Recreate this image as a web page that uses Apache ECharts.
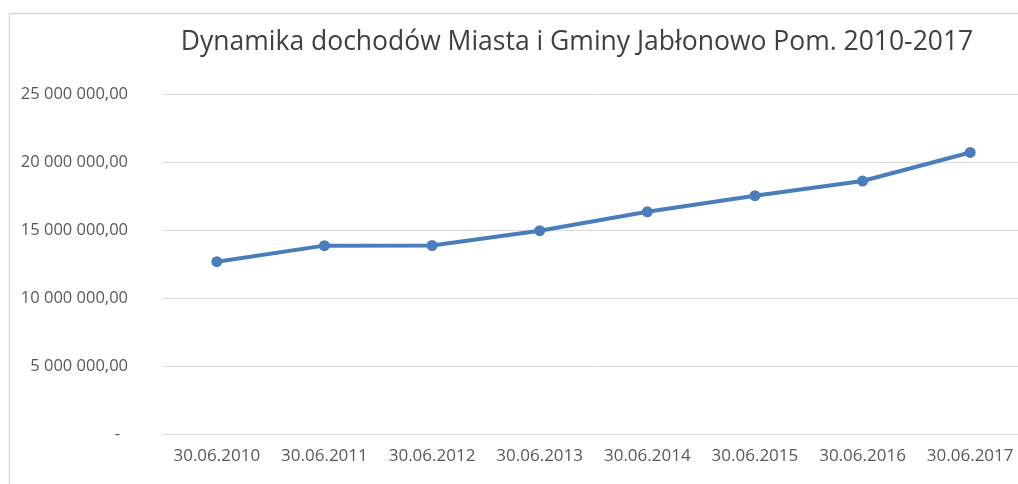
<!DOCTYPE html>
<html>
<head>
<meta charset="utf-8">
<script src="https://cdn.jsdelivr.net/npm/echarts@6/dist/echarts.min.js"></script>
<style>
  html, body { margin: 0; padding: 0; background: #fff; overflow: hidden; }
  /* wykres w oryginale jest lekko przycięty z prawej strony */
  #chart { width: 1024px; height: 484px; }
</style>
</head>
<body>
<div id="chart"></div>
<script>
// dane
const categories = ['30.06.2010', '30.06.2011', '30.06.2012', '30.06.2013', '30.06.2014', '30.06.2015', '30.06.2016', '30.06.2017'];
const dochody = [12670000, 13850000, 13860000, 14950000, 16340000, 17520000, 18600000, 20700000];
const yTicks = [0, 5000000, 10000000, 15000000, 20000000, 25000000];

// format jak w Excelu: "25 000 000,00", zero jako "-"
function fmt(v) {
  if (v === 0) return '{dash|-}';
  const s = Math.round(v).toString().replace(/\B(?=(\d{3})+(?!\d))/g, ' ');
  return s + ',00';
}

const chart = echarts.init(document.getElementById('chart'));
const textColor = '#595959';
const gridColor = '#d9d9d9';

chart.setOption({
  animation: false,
  title: {
    text: 'Dynamika dochodów Miasta i Gminy Jabłonowo Pom. 2010-2017',
    left: 572,
    top: 24,
    textAlign: 'center',
    textStyle: {
      fontFamily: 'Open Sans',
      fontWeight: 'normal',
      fontSize: 26.5,
      color: '#404040'
    }
  },
  graphic: [
    { type: 'line', shape: { x1: 9.5, y1: 13.5, x2: 1024, y2: 13.5 }, style: { stroke: gridColor, lineWidth: 1.5 } },
    { type: 'line', shape: { x1: 9.5, y1: 13.5, x2: 9.5, y2: 484 }, style: { stroke: gridColor, lineWidth: 1.5 } }
  ],
  grid: {
    left: 163,
    right: 0,
    top: 94,
    bottom: 50,
    containLabel: false
  },
  xAxis: {
    type: 'category',
    data: categories,
    boundaryGap: true,
    axisLine: { lineStyle: { color: gridColor, width: 1 } },
    axisTick: { show: false },
    axisLabel: {
      color: textColor,
      fontFamily: 'Open Sans',
      fontSize: 17,
      margin: 14,
      interval: 0
    }
  },
  yAxis: {
    type: 'value',
    min: yTicks[0],
    max: yTicks[yTicks.length - 1],
    interval: yTicks[1] - yTicks[0],
    axisLine: { show: false },
    axisTick: { show: false },
    splitLine: { lineStyle: { color: gridColor, width: 1 } },
    axisLabel: {
      color: textColor,
      fontFamily: 'Open Sans',
      fontSize: 16.5,
      margin: 35,
      formatter: fmt,
      rich: {
        dash: { color: textColor, fontSize: 16.5, padding: [0, 8, 0, 0] }
      }
    }
  },
  series: [
    {
      type: 'line',
      data: dochody,
      symbol: 'circle',
      symbolSize: 11,
      lineStyle: { color: '#4a7ebb', width: 4 },
      itemStyle: { color: '#4a7ebb' }
    }
  ]
});
</script>
</body>
</html>
